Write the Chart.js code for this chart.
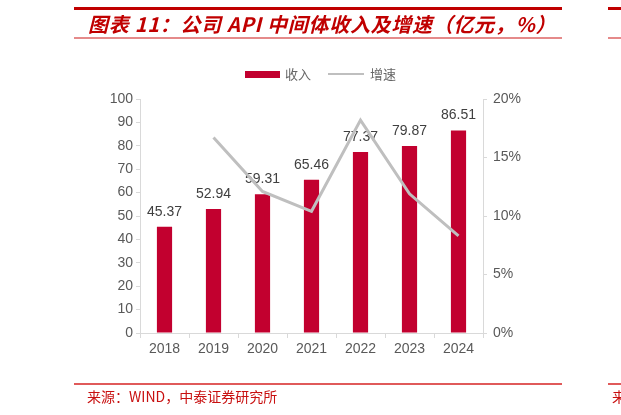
<!DOCTYPE html>
<html>
<head>
<meta charset="utf-8">
<script src="https://cdn.jsdelivr.net/npm/chart.js@4.4.0/dist/chart.umd.min.js"></script>
<style>
  html, body { margin: 0; padding: 0; background: #fff; }
  #wrap { position: relative; width: 621px; height: 415px; overflow: hidden; }
  #myChart { position: absolute; left: 0; top: 0; }
  .rule { position: absolute; }
  .txt { position: absolute; white-space: nowrap; font-family: "Noto Sans CJK SC", sans-serif; }
</style>
</head>
<body>
<div id="wrap">
  <canvas id="myChart" width="621" height="415"></canvas>

  <!-- header rules -->
  <div class="rule" style="left:74px; top:7px; width:488px; height:3px; background:#C00000;"></div>
  <div class="rule" style="left:74px; top:37px; width:488px; height:2px; background:#E58A8A;"></div>
  <div class="rule" style="left:608px; top:7px; width:13px; height:3px; background:#C00000;"></div>
  <div class="rule" style="left:608px; top:37px; width:13px; height:2px; background:#E58A8A;"></div>
  <div class="txt" style="left:88px; top:10px; font-size:20px; line-height:28px; font-weight:bold; font-style:italic; color:#C00000; letter-spacing:0.7px;">图表 11：公司 API 中间体收入及增速（亿元，%）</div>

  <!-- legend -->
  <div class="rule" style="left:245px; top:71px; width:35px; height:7px; background:#C2002F;"></div>
  <div class="txt" style="left:285px; top:65px; font-size:13px; line-height:18px; color:#666;">收入</div>
  <div class="rule" style="left:328px; top:73px; width:36px; height:2px; background:#BFBFBF;"></div>
  <div class="txt" style="left:370px; top:65px; font-size:13px; line-height:18px; color:#666;">增速</div>

  <!-- footer -->
  <div class="rule" style="left:74px; top:383px; width:488px; height:2px; background:#E05A5A;"></div>
  <div class="rule" style="left:608px; top:383px; width:13px; height:2px; background:#E05A5A;"></div>
  <div class="txt" style="left:87px; top:386px; font-size:14px; line-height:20px; color:#C81010;">来源：WIND，中泰证券研究所</div>
  <div class="txt" style="left:612px; top:386px; font-size:14px; line-height:20px; color:#C81010;">来源：WIND</div>
</div>

<script>
var years = ['2018', '2019', '2020', '2021', '2022', '2023', '2024'];
var revenue = [45.37, 52.94, 59.31, 65.46, 77.37, 79.87, 86.51];   // 亿元
var growth = [null, 16.7, 12.1, 10.4, 18.2, 11.9, 8.3];            // %

var barColor = '#C2002F';
var lineColor = '#BFBFBF';
var axisColor = '#D9D9D9';
var tickFont = { family: '"Liberation Sans", Arial, sans-serif', size: 14 };

// Draw the value labels just after the bars, so the line stays on top
var barLabels = {
  id: 'barLabels',
  afterDatasetDraw: function(chart, args) {
    if (args.index != 1) {
      return;
    }
    var ctx = chart.ctx;
    ctx.save();
    ctx.font = '14px "Liberation Sans", Arial, sans-serif';
    ctx.fillStyle = '#404040';
    ctx.textAlign = 'center';
    ctx.textBaseline = 'bottom';
    args.meta.data.forEach(function(bar, i) {
      ctx.fillText(revenue[i].toFixed(2), bar.x, bar.y - 8);
    });
    ctx.restore();
  }
};

var chart = new Chart(document.getElementById('myChart'), {
  type: 'bar',
  data: {
    labels: years,
    datasets: [
      {
        type: 'line',
        label: '增速',
        data: growth,
        borderColor: lineColor,
        borderWidth: 3,
        pointRadius: 0,
        tension: 0,
        fill: false,
        yAxisID: 'y1'
      },
      {
        label: '收入',
        data: revenue,
        backgroundColor: barColor,
        categoryPercentage: 1,
        barPercentage: 0.31,
        yAxisID: 'y'
      }
    ]
  },
  options: {
    responsive: false,
    animation: false,
    events: [],
    layout: {
      padding: { left: 100, right: 88, top: 99, bottom: 52 }
    },
    scales: {
      x: {
        offset: true,
        grid: {
          offset: true,
          drawOnChartArea: false,
          color: axisColor,
          tickLength: 5
        },
        border: { color: axisColor, width: 1 },
        ticks: { font: tickFont, color: '#595959', padding: 3 },
        afterFit: function(scale) { scale.height = 30; }
      },
      y: {
        position: 'left',
        min: 0,
        max: 100,
        ticks: { stepSize: 10, font: tickFont, color: '#595959', padding: 3 },
        grid: { drawOnChartArea: false, color: axisColor, tickLength: 4 },
        border: { color: axisColor, width: 1 },
        afterFit: function(scale) { scale.width = 40; }
      },
      y1: {
        position: 'right',
        min: 0,
        max: 20,
        ticks: {
          stepSize: 5,
          font: tickFont,
          color: '#595959',
          padding: 6,
          callback: (value) => value + '%'
        },
        grid: { drawOnChartArea: false, color: axisColor, tickLength: 4 },
        border: { color: axisColor, width: 1 },
        afterFit: function(scale) { scale.width = 50; }
      }
    },
    plugins: {
      legend: { display: false },
      tooltip: { enabled: false }
    }
  },
  plugins: [barLabels]
});
</script>
</body>
</html>
